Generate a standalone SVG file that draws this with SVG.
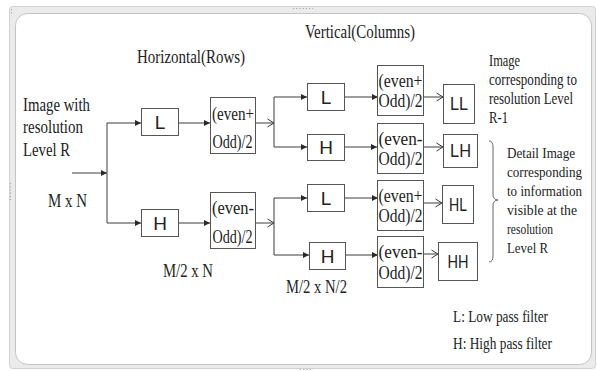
<svg xmlns="http://www.w3.org/2000/svg" width="597" height="371" viewBox="0 0 597 371">
<style>
.frameO{fill:#ebebeb;stroke:#d2d2d2;stroke-width:1}
.frameI{fill:#ffffff;stroke:#c4c4c4;stroke-width:1}
.hdl{stroke:#a8a8a8;stroke-width:1.2;stroke-dasharray:1.2 2;fill:none}
.box{fill:#ffffff;stroke:#555555;stroke-width:1}
.ln{fill:none;stroke:#3c3c3c;stroke-width:1}
.fa{marker-end:url(#fill)}
.oa{marker-end:url(#open)}
.t{font-family:"Liberation Serif","Times New Roman",serif;fill:#222222}
.t18{font-size:18px}
.t16{font-size:16px}
.t15{font-size:15.5px}
.s{font-family:"Liberation Sans",Arial,sans-serif;fill:#222222;text-anchor:middle}
.brace{fill:none;stroke:#666666;stroke-width:1}
</style>
<defs>
<marker id="fill" markerUnits="userSpaceOnUse" markerWidth="6" markerHeight="6" refX="6" refY="3" orient="auto">
<path d="M0,0 L6,3 L0,6 z" fill="#2a2a2a"/>
</marker>
<marker id="open" markerUnits="userSpaceOnUse" markerWidth="8" markerHeight="10" refX="7" refY="5" orient="auto">
<path d="M0.5,1 L7,5 L0.5,9" fill="none" stroke="#3c3c3c" stroke-width="1"/>
</marker>
</defs>

<g id="frame">
<rect class="frameO" x="9.5" y="6.5" width="586" height="362" rx="3"/>
<rect class="frameI" x="15.5" y="13.5" width="576" height="351" rx="12"/>
<path class="hdl" d="M293 8.5 H313 M300 369.5 H313 M10.5 183 V200 M11.5 9 V15"/>
</g>

<g id="titles">
<text class="t t18" x="137" y="63" textLength="108" lengthAdjust="spacingAndGlyphs">Horizontal(Rows)</text>
<text class="t t18" x="305" y="38" textLength="110" lengthAdjust="spacingAndGlyphs">Vertical(Columns)</text>
</g>

<g id="input">
<text class="t t18" x="23" y="111" textLength="67" lengthAdjust="spacingAndGlyphs">Image with</text>
<text class="t t18" x="23" y="133" textLength="60" lengthAdjust="spacingAndGlyphs">resolution</text>
<text class="t t18" x="23" y="156" textLength="47" lengthAdjust="spacingAndGlyphs">Level R</text>
<text class="t t18" x="48" y="207" textLength="39" lengthAdjust="spacingAndGlyphs">M x N</text>
</g>

<g id="connectors">
<path class="ln fa" d="M72 173 H107"/>
<path class="ln" d="M107 123 V223"/>
<path class="ln fa" d="M107 123 H141"/>
<path class="ln fa" d="M107 223 H141"/>
<path class="ln fa" d="M178 123 H210"/>
<path class="ln fa" d="M178 223 H210"/>
<path class="ln oa" d="M255 123 H274"/>
<path class="ln oa" d="M255 223 H274"/>
<path class="ln" d="M274 97 V147"/>
<path class="ln" d="M274 198 V255"/>
<path class="ln fa" d="M274 97 H307"/>
<path class="ln fa" d="M274 147 H307"/>
<path class="ln fa" d="M274 198 H307"/>
<path class="ln fa" d="M274 255 H309"/>
<path class="ln fa" d="M344 97 H378"/>
<path class="ln fa" d="M344 147 H377"/>
<path class="ln fa" d="M344 198 H378"/>
<path class="ln fa" d="M345 255 H378"/>
<path class="ln oa" d="M423 97 H443"/>
<path class="ln oa" d="M423 147 H443"/>
<path class="ln oa" d="M423 203 H442"/>
<path class="ln oa" d="M423 254 H438"/>
</g>

<g id="L1"><rect class="box" x="141.5" y="108.5" width="37" height="27"/><text class="s" x="160" y="129" font-size="19">L</text></g>
<g id="H1"><rect class="box" x="141.5" y="209.5" width="37" height="27"/><text class="s" x="160" y="230" font-size="19">H</text></g>

<g id="avg1a"><rect class="box" x="210.5" y="97.5" width="45" height="56"/>
<text class="t t18" x="212" y="120" textLength="42" lengthAdjust="spacingAndGlyphs">(even+</text>
<text class="t t18" x="212.5" y="148" textLength="40" lengthAdjust="spacingAndGlyphs">Odd)/2</text></g>
<g id="avg1b"><rect class="box" x="210.5" y="192.5" width="45" height="56"/>
<text class="t t18" x="212" y="214" textLength="42" lengthAdjust="spacingAndGlyphs">(even-</text>
<text class="t t18" x="212.5" y="243" textLength="40" lengthAdjust="spacingAndGlyphs">Odd)/2</text></g>

<g id="L2a"><rect class="box" x="307.5" y="83.5" width="37" height="27"/><text class="s" x="326" y="104" font-size="19">L</text></g>
<g id="H2a"><rect class="box" x="307.5" y="134.5" width="37" height="26"/><text class="s" x="326" y="154" font-size="19">H</text></g>
<g id="L2b"><rect class="box" x="307.5" y="184.5" width="37" height="27"/><text class="s" x="326" y="205" font-size="19">L</text></g>
<g id="H2b"><rect class="box" x="309.5" y="242.5" width="36" height="27"/><text class="s" x="327.5" y="263" font-size="19">H</text></g>

<g id="avg2a"><rect class="box" x="377.5" y="65.5" width="46" height="50"/>
<text class="t t18" x="378.5" y="87" textLength="44" lengthAdjust="spacingAndGlyphs">(even+</text>
<text class="t t18" x="378.5" y="107" textLength="44" lengthAdjust="spacingAndGlyphs">Odd)/2</text></g>
<g id="avg2b"><rect class="box" x="377.5" y="123.5" width="46" height="50"/>
<text class="t t18" x="378.5" y="145" textLength="44" lengthAdjust="spacingAndGlyphs">(even-</text>
<text class="t t18" x="378.5" y="165" textLength="44" lengthAdjust="spacingAndGlyphs">Odd)/2</text></g>
<g id="avg2c"><rect class="box" x="377.5" y="180.5" width="46" height="50"/>
<text class="t t18" x="378.5" y="202" textLength="44" lengthAdjust="spacingAndGlyphs">(even+</text>
<text class="t t18" x="378.5" y="222" textLength="44" lengthAdjust="spacingAndGlyphs">Odd)/2</text></g>
<g id="avg2d"><rect class="box" x="377.5" y="236.5" width="46" height="51"/>
<text class="t t18" x="378.5" y="258" textLength="44" lengthAdjust="spacingAndGlyphs">(even-</text>
<text class="t t18" x="378.5" y="279" textLength="44" lengthAdjust="spacingAndGlyphs">Odd)/2</text></g>

<g id="LL"><rect class="box" x="443.5" y="84.5" width="31" height="39"/><text class="s" x="459" y="110" font-size="18" textLength="18" lengthAdjust="spacingAndGlyphs">LL</text></g>
<g id="LH"><rect class="box" x="443.5" y="134.5" width="34" height="33"/><text class="s" x="460.5" y="157" font-size="18" textLength="21" lengthAdjust="spacingAndGlyphs">LH</text></g>
<g id="HL"><rect class="box" x="442.5" y="185.5" width="31" height="38"/><text class="s" x="458" y="211" font-size="18" textLength="18" lengthAdjust="spacingAndGlyphs">HL</text></g>
<g id="HH"><rect class="box" x="438.5" y="242.5" width="39" height="38"/><text class="s" x="458" y="268" font-size="18" textLength="21" lengthAdjust="spacingAndGlyphs">HH</text></g>

<g id="sizes">
<text class="t t18" x="163" y="277" textLength="50" lengthAdjust="spacingAndGlyphs">M/2 x N</text>
<text class="t t18" x="286" y="293" textLength="61" lengthAdjust="spacingAndGlyphs">M/2 x N/2</text>
</g>

<g id="note-ll">
<text class="t t16" x="489" y="66" textLength="31" lengthAdjust="spacingAndGlyphs">Image</text>
<text class="t t16" x="489" y="85" textLength="88" lengthAdjust="spacingAndGlyphs">corresponding to</text>
<text class="t t16" x="489" y="104" textLength="84" lengthAdjust="spacingAndGlyphs">resolution Level</text>
<text class="t t16" x="489" y="123" textLength="19" lengthAdjust="spacingAndGlyphs">R-1</text>
</g>

<g id="note-detail">
<path class="brace" d="M489 141 Q493 141 493 147 V194 Q493 200 498 200 Q493 200 493 206 V256 Q493 262 489 262"/>
<text class="t t15" x="507" y="158" textLength="68" lengthAdjust="spacingAndGlyphs">Detail Image</text>
<text class="t t15" x="507" y="177" textLength="75" lengthAdjust="spacingAndGlyphs">corresponding</text>
<text class="t t15" x="507" y="196" textLength="75" lengthAdjust="spacingAndGlyphs">to information</text>
<text class="t t15" x="507" y="215" textLength="70" lengthAdjust="spacingAndGlyphs">visible at  the</text>
<text class="t t15" x="507" y="234" textLength="46" lengthAdjust="spacingAndGlyphs">resolution</text>
<text class="t t15" x="507" y="253" textLength="41" lengthAdjust="spacingAndGlyphs">Level R</text>
</g>

<g id="legend">
<text class="t t16" x="453" y="322" textLength="95" lengthAdjust="spacingAndGlyphs">L: Low pass filter</text>
<text class="t t16" x="453" y="349" textLength="99" lengthAdjust="spacingAndGlyphs">H: High pass filter</text>
</g>
</svg>
